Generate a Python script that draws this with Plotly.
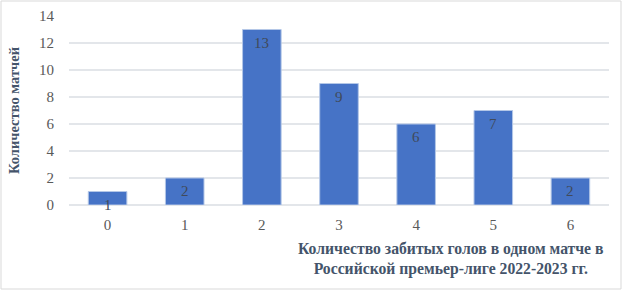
import plotly.graph_objects as go

categories = ["0", "1", "2", "3", "4", "5", "6"]
matches = [1, 2, 13, 9, 6, 7, 2]
y_ticks = [0, 2, 4, 6, 8, 10, 12, 14]
y_title = "Количество матчей"
x_title = "Количество забитых голов в одном матче в<br>Российской премьер-лиге 2022-2023 гг."

W, H = 625, 291
L, R, T, B = 69, 16, 16, 86
pw, ph = W - L - R, H - T - B

fig = go.Figure(go.Bar(
    x=categories, y=matches,
    marker=dict(color="#4673c6", line=dict(color="#b4c7e7", width=1)),
    width=0.5,
    hoverinfo="skip",
))

label_annotations = [dict(
    x=c, y=v, xref="x", yref="y", text=str(v), showarrow=False,
    yanchor="top", yshift=-3,
    font=dict(family="Liberation Serif", size=15, color="#404a5a"),
) for c, v in zip(categories, matches)]

fig.update_layout(
    width=W, height=H,
    margin=dict(l=L, r=R, t=T, b=B, autoexpand=False),
    plot_bgcolor="white", paper_bgcolor="white",
    showlegend=False,
    font=dict(family="Liberation Serif", size=15, color="#595959"),
    xaxis=dict(showgrid=False, showline=False, ticks="outside", ticklen=6,
               tickcolor="rgba(0,0,0,0)", automargin=False,
               tickfont=dict(size=15, color="#595959")),
    yaxis=dict(range=[0, 14], tickvals=y_ticks, showgrid=True, gridcolor="#e3e6ea", gridwidth=1.5,
               zeroline=True, zerolinecolor="#e3e6ea", zerolinewidth=1.5,
               ticks="outside", ticklen=11, tickcolor="rgba(0,0,0,0)",
               automargin=False,
               tickfont=dict(size=15, color="#595959"),
               title=dict(text="<b>" + y_title + "</b>", font=dict(size=14.5, color="#44546a"), standoff=15)),
    annotations=label_annotations + [dict(
        text="<b>" + x_title + "</b>", xref="paper", yref="paper",
        x=(605 - L) / pw, y=-(238 - (T + ph)) / ph,
        xanchor="right", yanchor="top", align="center", showarrow=False,
        font=dict(family="Liberation Serif", size=15.7, color="#44546a"),
    )],
    shapes=[dict(
        type="rect", xref="paper", yref="paper",
        x0=(1 - L) / pw, x1=(621 - L) / pw,
        y0=-(289 - (T + ph)) / ph, y1=1 + (T - 1) / ph,
        line=dict(color="#d9d9d9", width=1), fillcolor="rgba(0,0,0,0)", layer="below",
    )],
)

fig.write_html("out.html", config={"displayModeBar": False},
               post_script="document.body.style.margin='0';document.body.style.overflow='hidden';")
